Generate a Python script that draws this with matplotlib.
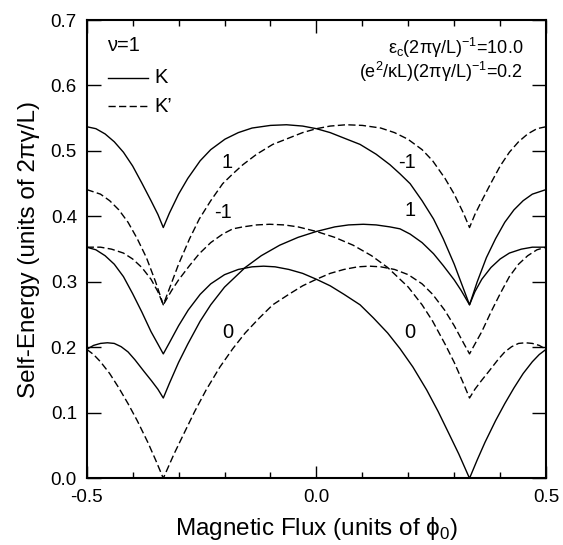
import matplotlib
matplotlib.use("Agg")
import matplotlib.pyplot as plt
from matplotlib.ticker import MultipleLocator

plt.rcParams.update({
    "font.family": ["Liberation Sans", "DejaVu Sans"],
    "axes.unicode_minus": False,
})

# K valley (solid)
K_TOP_X = [-0.5, -0.48, -0.46, -0.44, -0.42, -0.40, -0.38, -0.36, -0.345, -0.3333,
           -0.32, -0.30, -0.28, -0.253, -0.23, -0.199, -0.17, -0.14, -0.10, -0.065,
           -0.03, 0.0, 0.03, 0.066, 0.095, 0.13, 0.16, 0.182, 0.204, 0.23,
           0.255, 0.276, 0.30, 0.315, 0.3333, 0.35, 0.37, 0.39, 0.41, 0.43,
           0.45, 0.47, 0.5]
K_TOP_Y = [0.537, 0.534, 0.526, 0.514, 0.498, 0.477, 0.451, 0.424, 0.403, 0.383,
           0.405, 0.434, 0.458, 0.485, 0.502, 0.518, 0.528, 0.535, 0.539, 0.540,
           0.538, 0.534, 0.528, 0.518, 0.510, 0.495, 0.479, 0.465, 0.450, 0.424,
           0.396, 0.366, 0.327, 0.299, 0.265, 0.30, 0.337, 0.366, 0.391, 0.41,
           0.424, 0.434, 0.441]

K_MID_X = [-0.5, -0.48, -0.46, -0.44, -0.42, -0.40, -0.38, -0.36, -0.345, -0.3333,
           -0.32, -0.30, -0.279, -0.253, -0.23, -0.20, -0.17, -0.14, -0.115, -0.09,
           -0.06, -0.03, 0.0, 0.03, 0.06, 0.095, 0.124, 0.155, 0.182, 0.21,
           0.24, 0.265, 0.29, 0.31, 0.3333, 0.35, 0.367, 0.39, 0.41, 0.43,
           0.45, 0.47, 0.485, 0.5]
K_MID_Y = [0.353, 0.349, 0.34, 0.327, 0.308, 0.282, 0.254, 0.224, 0.205, 0.19,
           0.207, 0.233, 0.257, 0.281, 0.297, 0.311, 0.319, 0.323, 0.324, 0.323,
           0.319, 0.313, 0.304, 0.294, 0.281, 0.265, 0.245, 0.222, 0.198, 0.17,
           0.135, 0.102, 0.066, 0.037, 0.0, 0.028, 0.055, 0.088, 0.114, 0.138,
           0.16, 0.178, 0.189, 0.197]

K_LOW_X = [-0.5, -0.485, -0.47, -0.455, -0.44, -0.425, -0.41, -0.395, -0.375, -0.359,
           -0.345, -0.3333, -0.32, -0.30, -0.28, -0.253, -0.23, -0.20, -0.155, -0.12,
           -0.08, -0.04, 0.0, 0.04, 0.07, 0.102, 0.13, 0.16, 0.182, 0.204,
           0.23, 0.255, 0.276, 0.30, 0.315, 0.3333, 0.345, 0.36, 0.38, 0.40,
           0.42, 0.446, 0.47, 0.5]
K_LOW_Y = [0.197, 0.203, 0.206, 0.207, 0.206, 0.201, 0.193, 0.181, 0.163, 0.149,
           0.136, 0.1226, 0.145, 0.177, 0.205, 0.24, 0.265, 0.292, 0.322, 0.34,
           0.356, 0.368, 0.377, 0.384, 0.387, 0.388, 0.387, 0.384, 0.381, 0.373,
           0.36, 0.343, 0.325, 0.303, 0.287, 0.265, 0.285, 0.304, 0.322, 0.335,
           0.344, 0.35, 0.353, 0.353]

# K' valley (dashed)
KP_TOP_X = [-0.5, -0.47, -0.45, -0.43, -0.41, -0.39, -0.37, -0.35, -0.3333, -0.315,
            -0.30, -0.276, -0.255, -0.23, -0.204, -0.182, -0.16, -0.13, -0.095, -0.066,
            -0.03, 0.0, 0.03, 0.065, 0.10, 0.14, 0.17, 0.199, 0.23, 0.253,
            0.28, 0.30, 0.32, 0.3333, 0.345, 0.36, 0.38, 0.40, 0.42, 0.44,
            0.46, 0.48, 0.5]
KP_TOP_Y = [0.441, 0.434, 0.424, 0.41, 0.391, 0.366, 0.337, 0.30, 0.265, 0.299,
            0.327, 0.366, 0.396, 0.424, 0.450, 0.465, 0.479, 0.495, 0.510, 0.518,
            0.528, 0.534, 0.538, 0.540, 0.539, 0.535, 0.528, 0.518, 0.502, 0.485,
            0.458, 0.434, 0.405, 0.383, 0.403, 0.424, 0.451, 0.477, 0.498, 0.514,
            0.526, 0.534, 0.537]

KP_MID_X = [-0.5, -0.485, -0.47, -0.45, -0.43, -0.41, -0.39, -0.367, -0.35, -0.3333,
            -0.31, -0.29, -0.265, -0.24, -0.21, -0.182, -0.155, -0.124, -0.095, -0.06,
            -0.03, 0.0, 0.03, 0.06, 0.09, 0.115, 0.14, 0.17, 0.20, 0.23,
            0.253, 0.279, 0.30, 0.32, 0.3333, 0.345, 0.36, 0.38, 0.40, 0.42,
            0.44, 0.46, 0.48, 0.5]
KP_MID_Y = [0.197, 0.189, 0.178, 0.16, 0.138, 0.114, 0.088, 0.055, 0.028, 0.0,
            0.037, 0.066, 0.102, 0.135, 0.17, 0.198, 0.222, 0.245, 0.265, 0.281,
            0.294, 0.304, 0.313, 0.319, 0.323, 0.324, 0.323, 0.319, 0.311, 0.297,
            0.281, 0.257, 0.233, 0.207, 0.19, 0.205, 0.224, 0.254, 0.282, 0.308,
            0.327, 0.34, 0.349, 0.353]

KP_LOW_X = [-0.5, -0.47, -0.446, -0.42, -0.40, -0.38, -0.36, -0.345, -0.3333, -0.315,
            -0.30, -0.276, -0.255, -0.23, -0.204, -0.182, -0.16, -0.13, -0.102, -0.07,
            -0.04, 0.0, 0.04, 0.08, 0.12, 0.155, 0.20, 0.23, 0.253, 0.28,
            0.30, 0.32, 0.3333, 0.345, 0.359, 0.375, 0.395, 0.41, 0.425, 0.44,
            0.455, 0.47, 0.485, 0.5]
KP_LOW_Y = [0.353, 0.353, 0.35, 0.344, 0.335, 0.322, 0.304, 0.285, 0.265, 0.287,
            0.303, 0.325, 0.343, 0.36, 0.373, 0.381, 0.384, 0.387, 0.388, 0.387,
            0.384, 0.377, 0.368, 0.356, 0.34, 0.322, 0.292, 0.265, 0.24, 0.205,
            0.177, 0.145, 0.1226, 0.136, 0.149, 0.163, 0.181, 0.193, 0.201, 0.206,
            0.207, 0.206, 0.203, 0.197]

LABELS = ["1", "-1", "0", "-1", "1", "0"]
LABEL_X = [-0.195, -0.203, -0.192, 0.197, 0.204, 0.204]
LABEL_Y = [0.483, 0.406, 0.222, 0.483, 0.409, 0.222]

LW = 1.0
DASH = (0, (5.2, 2.4))

fig = plt.figure(figsize=(5.63, 5.45), dpi=100)
ax = fig.add_axes([0.154, 0.1224, 0.816, 0.8409])

for xs, ys in [(K_TOP_X, K_TOP_Y), (K_MID_X, K_MID_Y), (K_LOW_X, K_LOW_Y)]:
    ax.plot(xs, ys, color="black", lw=LW, solid_joinstyle="round")
for xs, ys in [(KP_TOP_X, KP_TOP_Y), (KP_MID_X, KP_MID_Y), (KP_LOW_X, KP_LOW_Y)]:
    ax.plot(xs, ys, color="black", lw=LW, linestyle=DASH)

for t, x, y in zip(LABELS, LABEL_X, LABEL_Y):
    ax.text(x, y, t, ha="center", va="center", fontsize=14.5)

# hand-drawn legend, as in the original
ax.text(-0.456, 0.661, "\u03bd=1", fontsize=14.5, va="center")
ax.plot([-0.453, -0.366], [0.612, 0.612], color="black", lw=LW)
ax.plot([-0.453, -0.366], [0.568, 0.568], color="black", lw=LW, linestyle=DASH)
ax.text(-0.352, 0.612, "K", fontsize=14.5, va="center")
ax.text(-0.352, 0.568, "K\u2019", fontsize=14.5, va="center")

ax.text(0.45, 0.658, "\u03b5$_\\mathregular{c}$(2\u03c0\u03b3/L)$^\\mathregular{-1}$=10.0",
        fontsize=13, ha="right", va="center")
ax.text(0.45, 0.621, "(e$^\\mathregular{2}$/\u03baL)(2\u03c0\u03b3/L)$^\\mathregular{-1}$=0.2",
        fontsize=13, ha="right", va="center")

ax.set_xlim(-0.5, 0.5)
ax.set_ylim(0.0, 0.7)
ax.xaxis.set_major_locator(MultipleLocator(0.5))
ax.xaxis.set_minor_locator(MultipleLocator(0.1))
ax.yaxis.set_major_locator(MultipleLocator(0.1))
ax.xaxis.set_major_formatter(plt.FormatStrFormatter("%.1f"))
ax.yaxis.set_major_formatter(plt.FormatStrFormatter("%.1f"))
ax.tick_params(which="both", direction="in", top=True, right=True, width=1.0, labelsize=13.5)
ax.tick_params(axis="y", which="major", length=10, pad=7)
ax.tick_params(axis="x", which="major", length=9, pad=8)
ax.tick_params(axis="x", which="minor", length=4)
for s in ax.spines.values():
    s.set_linewidth(1.5)

ax.set_xlabel("Magnetic Flux (units of \u03d5$_\\mathregular{0}$)", fontsize=17.5, labelpad=6)
ax.set_ylabel("Self-Energy (units of 2\u03c0\u03b3/L)", fontsize=17.5, labelpad=8)

fig.savefig("out.png", dpi=100)
